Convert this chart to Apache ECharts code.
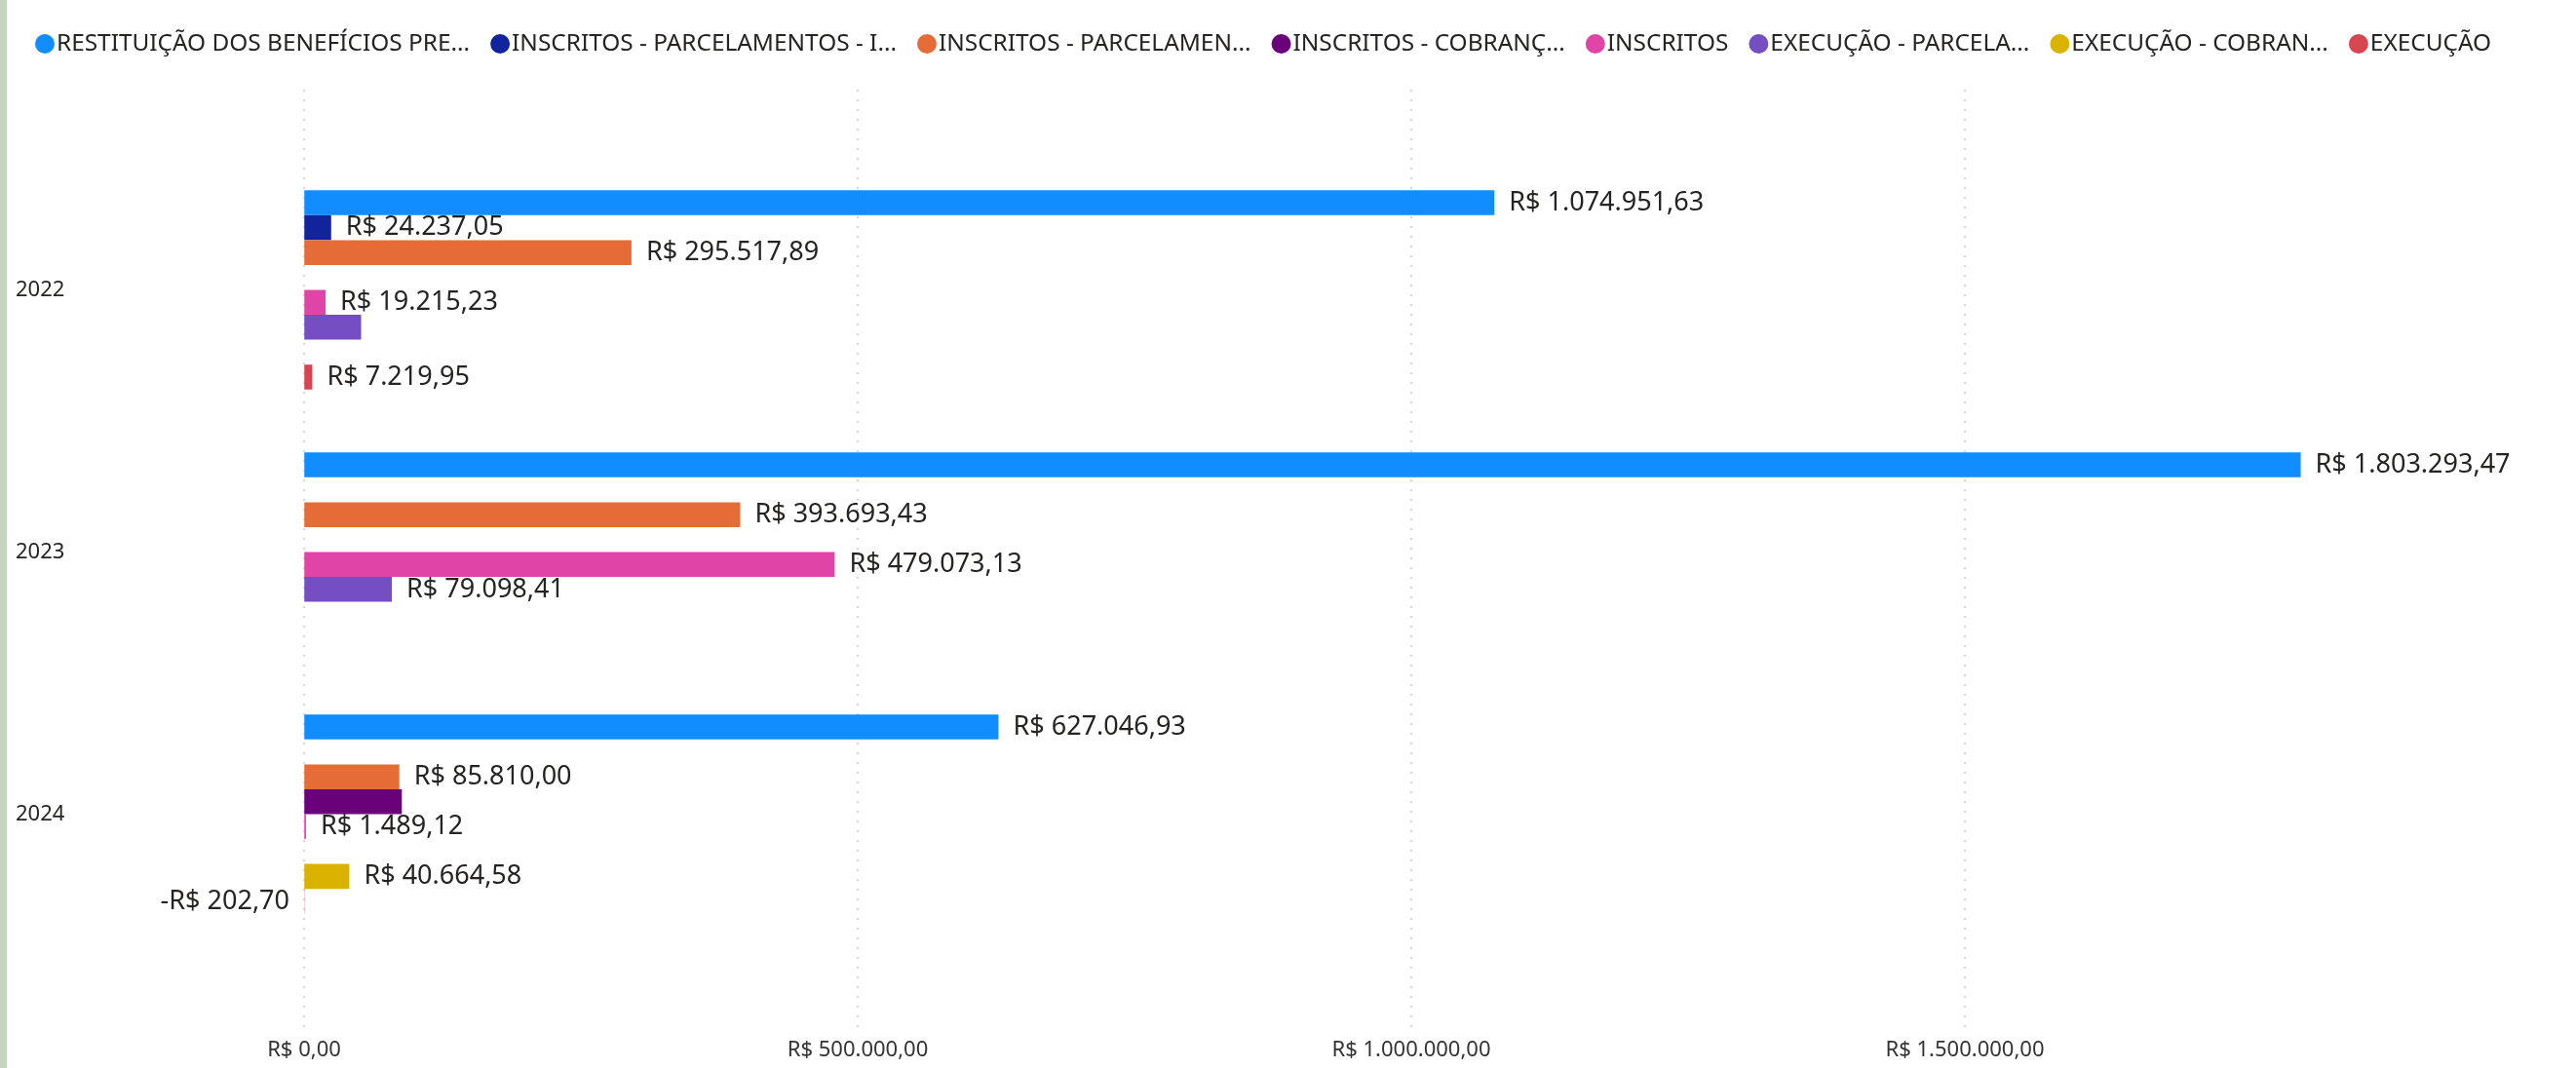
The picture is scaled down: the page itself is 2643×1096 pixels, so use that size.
<!DOCTYPE html>
<html>
<head>
<meta charset="utf-8">
<script src="https://cdn.jsdelivr.net/npm/echarts@6/dist/echarts.min.js"></script>
<style>
html,body{margin:0;padding:0;background:#fff;}
#chart{width:2643px;height:1096px;}
</style>
</head>
<body>
<div id="chart"></div>
<script>
// ---- data ----
const years = ['2022', '2023', '2024'];
const seriesNames = [
  'RESTITUIÇÃO DOS BENEFÍCIOS PRE...',
  'INSCRITOS - PARCELAMENTOS - I...',
  'INSCRITOS - PARCELAMEN...',
  'INSCRITOS - COBRANÇ...',
  'INSCRITOS',
  'EXECUÇÃO - PARCELA...',
  'EXECUÇÃO - COBRAN...',
  'EXECUÇÃO'
];
const restituicao      = [1074951.63, 1803293.47, 627046.93];
const inscritosParcI   = [24237.05, null, null];
const inscritosParc    = [295517.89, 393693.43, 85810.00];
const inscritosCobr    = [null, null, 88100];
const inscritos        = [19215.23, 479073.13, 1489.12];
const execucaoParc     = [51300, 79098.41, null];
const execucaoCobr     = [null, null, 40664.58];
const execucao         = [7219.95, null, -202.70];
const seriesValues = [restituicao, inscritosParcI, inscritosParc, inscritosCobr, inscritos, execucaoParc, execucaoCobr, execucao];
const axisTicks = [0, 500000, 1000000, 1500000];
// points whose data label is hidden in the reference [seriesIndex, categoryIndex]
const hiddenLabels = [[3, 2], [5, 0]];

const colors = ['#118DFF', '#12239E', '#E66C37', '#6B007B', '#E044A7', '#744EC2', '#D9B300', '#D64550'];
const FONT = '"Noto Sans", "Open Sans", sans-serif';

function brl(v) {
  const neg = v < 0;
  const parts = Math.abs(v).toFixed(2).split('.');
  const i = parts[0].replace(/\B(?=(\d{3})+(?!\d))/g, '.');
  return (neg ? '-' : '') + 'R$ ' + i + ',' + parts[1];
}

const series = seriesNames.map((name, s) => ({
  type: 'bar',
  name: name,
  xAxisIndex: 0,
  yAxisIndex: 0,
  barGap: '0%',
  barCategoryGap: '24%',
  itemStyle: { color: colors[s] },
  label: {
    show: true,
    position: 'right',
    distance: 15,
    fontFamily: FONT,
    fontSize: 27,
    color: '#252423',
    formatter: p => brl(p.value)
  },
  emphasis: { disabled: true },
  data: seriesValues[s].map((v, c) => {
    if (v == null) return null;
    const item = { value: v };
    if (hiddenLabels.some(h => h[0] === s && h[1] === c)) item.label = { show: false };
    else if (v < 0) item.label = { position: 'left' };
    return item;
  })
}));

const chart = echarts.init(document.getElementById('chart'));
chart.setOption({
  animation: false,
  backgroundColor: '#ffffff',
  textStyle: { fontFamily: FONT },
  graphic: [{
    type: 'rect', left: 0, top: 0, z: 100,
    shape: { width: 7, height: 1096 },
    style: { fill: '#c4d4bf' }
  }],
  legend: {
    show: true,
    left: 31,
    top: 28,
    icon: 'circle',
    itemWidth: 20,
    itemHeight: 20,
    itemGap: 21,
    textStyle: { fontFamily: FONT, fontSize: 24.4, color: '#252423', padding: [0, 0, 0, -3] },
    data: seriesNames
  },
  grid: [
    { left: 312, right: 59, top: 163, bottom: 126, containLabel: false },
    { left: 312, right: 59, top: 92, bottom: 41, containLabel: false }
  ],
  xAxis: [
    {
      type: 'value', gridIndex: 0,
      min: v => v.min, max: 2000000,
      show: false,
      splitLine: { show: false }
    },
    {
      type: 'value', gridIndex: 1,
      min: axisTicks[0], max: 2000000, interval: axisTicks[1] - axisTicks[0],
      axisLine: { show: false }, axisTick: { show: false },
      axisLabel: {
        show: true, margin: 12, fontFamily: FONT, fontSize: 22, color: '#333333',
        showMaxLabel: false,
        formatter: v => axisTicks.indexOf(v) >= 0 ? brl(v) : ''
      },
      splitLine: {
        show: true,
        lineStyle: { color: ['#c8c8c8', '#c8c8c8', '#c8c8c8', '#c8c8c8', 'rgba(0,0,0,0)'], type: [2, 8], width: 1.5 }
      }
    }
  ],
  yAxis: [
    {
      type: 'category', gridIndex: 0, data: years, inverse: true,
      axisLine: { show: false }, axisTick: { show: false },
      axisLabel: { show: true, align: 'left', margin: 296, fontFamily: FONT, fontSize: 22, color: '#252423' },
      splitLine: { show: false }
    },
    {
      type: 'value', gridIndex: 1, show: false, splitLine: { show: false }
    }
  ],
  series: series
});
</script>
</body>
</html>
